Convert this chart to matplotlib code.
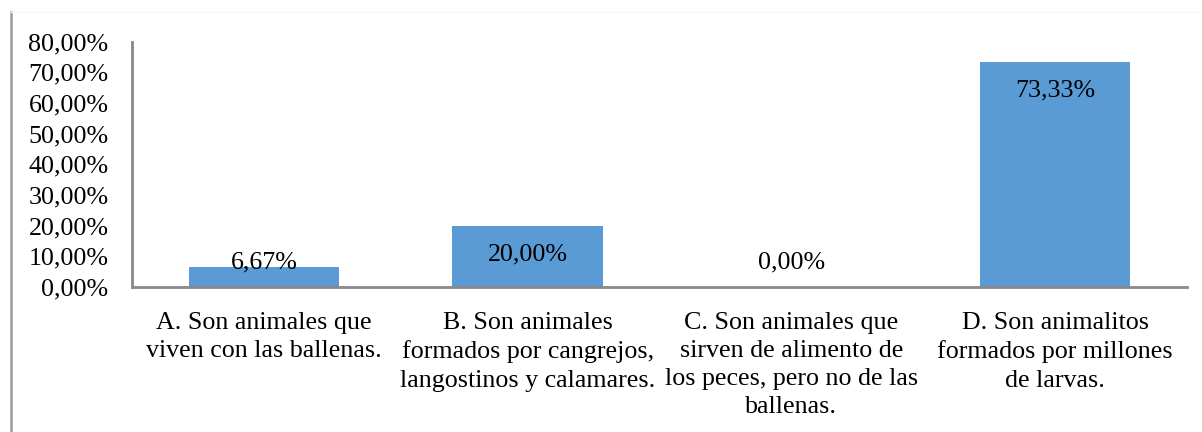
import matplotlib
matplotlib.use('Agg')
import matplotlib.pyplot as plt
from matplotlib.lines import Line2D

# Datos del gráfico
categorias = [
    "A. Son animales que\nviven con las ballenas.",
    "B. Son animales\nformados por cangrejos,\nlangostinos y calamares.",
    "C. Son animales que\nsirven de alimento de\nlos peces, pero no de las\nballenas.",
    "D. Son animalitos\nformados por millones\nde larvas.",
]
porcentajes = [6.67, 20.00, 0.00, 73.33]
ticks_y = [0, 10, 20, 30, 40, 50, 60, 70, 80]

plt.rcParams['font.family'] = ['Liberation Serif', 'DejaVu Serif']
fs = 18.7
gris = '#898989'

fig = plt.figure(figsize=(12.02, 4.32), dpi=100)
ax = fig.add_axes([132 / 1202, (432 - 287) / 432, (1187 - 132) / 1202, (287 - 41.5) / 432])

x = range(len(porcentajes))
ax.bar(x, porcentajes, width=0.57, color='#5B9BD5', zorder=2)

# Etiquetas de datos (dentro del extremo si cabe, si no, encima)
for i, v in enumerate(porcentajes):
    y = v - 9.4 if v - 9.4 > 8 else 8.1
    ax.text(i, y, f"{v:.2f}%".replace('.', ','), ha='center', va='center',
            fontsize=fs, color='black', zorder=3)

ax.set_xlim(-0.5, len(porcentajes) - 0.5)
ax.set_ylim(0, 80)
ax.set_yticks(ticks_y)
ax.set_yticklabels([f"{t:.2f}%".replace('.', ',') for t in ticks_y], fontsize=fs)
ax.set_xticks(list(x))
ax.set_xticklabels(categorias, fontsize=fs, linespacing=1.36)
ax.tick_params(axis='y', length=0, pad=17)
ax.tick_params(axis='x', length=0, pad=18)

for s in ['top', 'right']:
    ax.spines[s].set_visible(False)
for s in ['left', 'bottom']:
    ax.spines[s].set_color(gris)
    ax.spines[s].set_linewidth(2)

# Borde exterior del gráfico
fig.add_artist(Line2D([11 / 1202, 11 / 1202], [0, 1 - 12 / 432],
                      transform=fig.transFigure, color='#9a9a9a', lw=1.8))
fig.add_artist(Line2D([11 / 1202, 1], [1 - 12 / 432, 1 - 12 / 432],
                      transform=fig.transFigure, color='#f7f7f7', lw=1))

fig.savefig('out.png', dpi=100)
